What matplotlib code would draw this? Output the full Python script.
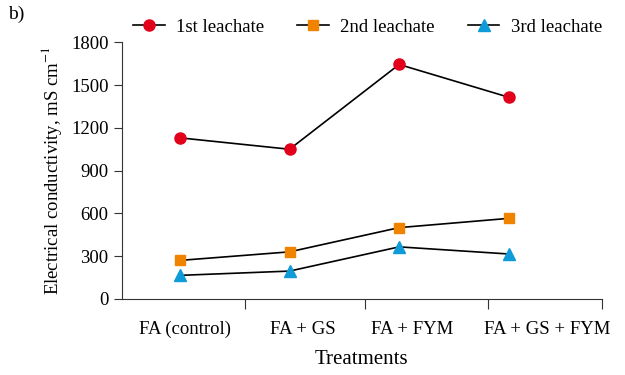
import numpy as np
import matplotlib
matplotlib.use("Agg")
import matplotlib.pyplot as plt

plt.rcParams['font.family'] = ['Liberation Serif', 'DejaVu Serif']
plt.rcParams['mathtext.fontset'] = 'stix'

# data
treatments = ["FA (control)", "FA + GS", "FA + FYM", "FA + GS + FYM"]
first_leachate = [1130, 1050, 1645, 1415]
second_leachate = [270, 330, 500, 565]
third_leachate = [165, 195, 365, 315]

fig = plt.figure(figsize=(6.25, 3.75), dpi=100)
ax = fig.add_axes([0.195, 0.203, 0.768, 0.684])

x = np.arange(len(treatments))
ax.plot(x, first_leachate, color='black', lw=1.2, marker='o', ms=8,
        mfc='#e2001a', mec='#e2001a', label='1st leachate')
ax.plot(x, second_leachate, color='black', lw=1.2, marker='s', ms=7,
        mfc='#f08300', mec='#f08300', label='2nd leachate')
ax.plot(x, third_leachate, color='black', lw=1.2, marker='^', ms=8,
        mfc='#0f9bd7', mec='#0f9bd7', label='3rd leachate')

ax.set_ylim(0, 1800)
ax.set_yticks(range(0, 1801, 300))
ax.set_xlim(-0.53, 3.85)

# boundary ticks on the x axis, labels in between
ax.set_xticks([0.59, 1.69, 2.81, 3.85])
ax.set_xticklabels([])
ax.set_xticks([0.05, 1.12, 2.12, 3.35], minor=True)
ax.set_xticklabels(treatments, minor=True)
ax.tick_params(axis='x', which='major', length=7, direction='out', color='#333333')
ax.tick_params(axis='x', which='minor', length=0, pad=16, labelsize=13.5)
ax.tick_params(axis='y', length=6, direction='out', labelsize=13.5, color='#333333')

for s in ['top', 'right']:
    ax.spines[s].set_visible(False)
for s in ['left', 'bottom']:
    ax.spines[s].set_color('#333333')

ax.set_xlabel("Treatments", fontsize=15, labelpad=8)
ax.set_ylabel("Electrical conductivity, mS cm$^{-1}$", fontsize=13.5, labelpad=5)

fig.legend(loc='center', bbox_to_anchor=(0.588, 0.928), ncol=3, frameon=False,
           fontsize=13.5, handlelength=1.7, columnspacing=1.75, handletextpad=0.6)

fig.text(0.013, 0.963, "b)", fontsize=14, va='center', ha='left')

fig.savefig("out.png", dpi=100)
